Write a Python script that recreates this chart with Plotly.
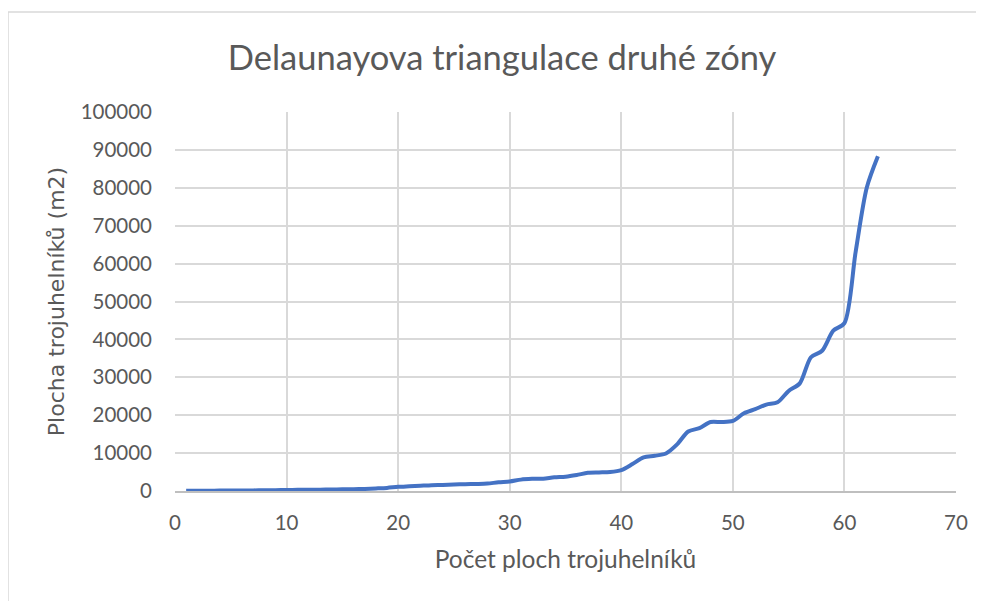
import plotly.graph_objects as go

x_vals = list(range(1, 64))
y_vals = [50, 60, 80, 100, 120, 140, 160, 180, 200, 280,
          300, 330, 360, 390, 430, 480, 560, 680, 820, 1100,
          1250, 1400, 1550, 1600, 1700, 1800, 1850, 1950, 2300, 2500,
          3000, 3200, 3250, 3600, 3750, 4200, 4800, 4900, 5000, 5500,
          7100, 8900, 9300, 9900, 12300, 15700, 16600, 18200, 18200, 18500,
          20500, 21600, 22800, 23400, 26400, 28400, 35300, 37000, 42300, 44300,
          63000, 80000, 88300]

title_text = "Delaunayova triangulace druhé zóny"
x_title = "Počet ploch trojuhelníků"
y_title = "Plocha trojuhelníků (m2)"

font_family = "Lato, 'Open Sans', sans-serif"
txt = "#595959"
grid = "#d9d9d9"

fig = go.Figure()
fig.add_trace(go.Scatter(
    x=x_vals, y=y_vals, mode="lines",
    line=dict(color="#4472C4", width=4, shape="spline", smoothing=0.8),
    showlegend=False, hoverinfo="x+y"))

# page body has an 8px margin, so the figure is sized to fit inside it
L, R, T, B = 167, 28, 104, 110
W, H = 976, 593
pw = W - L - R
ph = H - T - B

bx0 = (0 - L) / pw
bx1 = (1200 - L) / pw
by0 = (H - B - 700) / ph
by1 = (H - B - 4) / ph
border = dict(color="#d9d9d9", width=1.5)

fig.update_layout(
    width=W, height=H,
    margin=dict(l=L, r=R, t=T, b=B),
    paper_bgcolor="white", plot_bgcolor="white",
    font=dict(family=font_family, color=txt, size=20.5),
    title=dict(text=title_text, x=494 / W, xref="container", xanchor="center",
               y=1 - 50 / H, yref="container", yanchor="middle",
               font=dict(size=34.5, color=txt, family=font_family)),
    xaxis=dict(range=[0, 70], dtick=10, tick0=0, showgrid=True, gridcolor=grid, gridwidth=1.5,
               zeroline=False, showline=True, linecolor="#bfbfbf", linewidth=1.5,
               ticks="", ticklabelstandoff=13, mirror=False,
               title=dict(text=x_title, font=dict(size=24.5, color=txt), standoff=18)),
    yaxis=dict(range=[0, 100000], dtick=10000, showgrid=True, gridcolor=grid, gridwidth=1.5,
               zeroline=False, showline=False, ticks="", ticklabelstandoff=22,
               tickformat="d",
               title=dict(text=y_title,
                          font=dict(size=22, color=txt, family="'DejaVu Sans', sans-serif"),
                          standoff=9)),
    shapes=[
        dict(type="line", xref="paper", yref="paper", x0=bx0, x1=bx1, y0=by1, y1=by1,
             line=border, layer="below"),
        dict(type="line", xref="paper", yref="paper", x0=bx0, x1=bx0, y0=by0, y1=by1,
             line=border, layer="below"),
    ],
)

fig.write_html("out.html")
